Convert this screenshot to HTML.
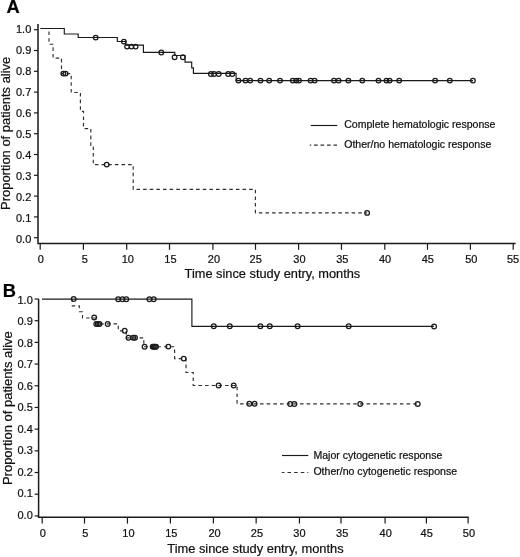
<!DOCTYPE html>
<html><head><meta charset="utf-8"><title>Kaplan-Meier survival curves</title>
<style>
html,body{margin:0;padding:0;background:#fff;}
body{width:520px;height:557px;overflow:hidden;font-family:"Liberation Sans", sans-serif;}
svg{display:block;}
text{stroke:#111;stroke-width:0.22px;}
#w{filter:grayscale(1);width:520px;height:557px;}
</style></head><body><div id="w">
<svg width="520" height="557" viewBox="0 0 520 557">
<rect width="520" height="557" fill="#fff"/>
<path d="M38 24 V243.4 H515.6" fill="none" stroke="#1a1a1a" stroke-width="1.5"/>
<g stroke="#1a1a1a" stroke-width="1.2"><line x1="34" y1="237.70" x2="38" y2="237.70"/><line x1="34" y1="216.90" x2="38" y2="216.90"/><line x1="34" y1="196.10" x2="38" y2="196.10"/><line x1="34" y1="175.30" x2="38" y2="175.30"/><line x1="34" y1="154.50" x2="38" y2="154.50"/><line x1="34" y1="133.70" x2="38" y2="133.70"/><line x1="34" y1="112.90" x2="38" y2="112.90"/><line x1="34" y1="92.10" x2="38" y2="92.10"/><line x1="34" y1="71.30" x2="38" y2="71.30"/><line x1="34" y1="50.50" x2="38" y2="50.50"/><line x1="34" y1="29.70" x2="38" y2="29.70"/></g>
<g stroke="#1a1a1a" stroke-width="1.2"><line x1="40.20" y1="243.4" x2="40.20" y2="249.8"/><line x1="83.40" y1="243.4" x2="83.40" y2="249.8"/><line x1="126.70" y1="243.4" x2="126.70" y2="249.8"/><line x1="169.50" y1="243.4" x2="169.50" y2="249.8"/><line x1="212.90" y1="243.4" x2="212.90" y2="249.8"/><line x1="255.50" y1="243.4" x2="255.50" y2="249.8"/><line x1="298.60" y1="243.4" x2="298.60" y2="249.8"/><line x1="341.45" y1="243.4" x2="341.45" y2="249.8"/><line x1="384.80" y1="243.4" x2="384.80" y2="249.8"/><line x1="427.50" y1="243.4" x2="427.50" y2="249.8"/><line x1="470.40" y1="243.4" x2="470.40" y2="249.8"/><line x1="513.20" y1="243.4" x2="513.20" y2="249.8"/></g>
<g font-family='"Liberation Sans", sans-serif' font-size="11" fill="#111" text-anchor="end"><text x="31.3" y="32.80">1.0</text><text x="31.3" y="53.77">0.9</text><text x="31.3" y="74.74">0.8</text><text x="31.3" y="95.71">0.7</text><text x="31.3" y="116.68">0.6</text><text x="31.3" y="137.65">0.5</text><text x="31.3" y="158.62">0.4</text><text x="31.3" y="179.59">0.3</text><text x="31.3" y="200.56">0.2</text><text x="31.3" y="221.53">0.1</text><text x="31.3" y="242.50">0.0</text></g>
<g font-family='"Liberation Sans", sans-serif' font-size="11" fill="#111" text-anchor="middle"><text x="40.70" y="262.7">0</text><text x="84.90" y="262.7">5</text><text x="127.80" y="262.7">10</text><text x="170.40" y="262.7">15</text><text x="213.90" y="262.7">20</text><text x="255.70" y="262.7">25</text><text x="299.40" y="262.7">30</text><text x="342.30" y="262.7">35</text><text x="385.10" y="262.7">40</text><text x="427.80" y="262.7">45</text><text x="471.30" y="262.7">50</text><text x="513.00" y="262.7">55</text></g>
<text x="184.6" y="278.3" font-family='"Liberation Sans", sans-serif' font-size="12.8" fill="#111">Time since study entry, months</text>
<text transform="translate(9.6 209.9) rotate(-90)" font-family='"Liberation Sans", sans-serif' font-size="12.95" fill="#111">Proportion of patients alive</text>
<text x="6.4" y="12.7" font-family='"Liberation Sans", sans-serif' font-size="18.3" font-weight="bold" fill="#000">A</text>
<path d="M40.3 28.5 H64.3 V34 H78.2 V37.5 H117.3 V41.5 H125.6 V45.1 H143.4 V52.4 H174.8 V55.5 H185 V62.1 H191.7 V67.9 H193.4 V73.3 H236.1 V80.6 H473" fill="none" stroke="#1a1a1a" stroke-width="1.15"/>
<g fill="none" stroke="#1a1a1a" stroke-width="1.25"><circle cx="95.7" cy="37.6" r="2.35"/><circle cx="123.9" cy="41.6" r="2.35"/><circle cx="127.1" cy="46.6" r="2.35"/><circle cx="131.5" cy="46.6" r="2.35"/><circle cx="135.6" cy="46.6" r="2.35"/><circle cx="161.3" cy="52.4" r="2.35"/><circle cx="174.6" cy="57.2" r="2.35"/><circle cx="182.9" cy="57.2" r="2.35"/><circle cx="210.9" cy="74.0" r="2.35"/><circle cx="214.1" cy="74.0" r="2.35"/><circle cx="218.7" cy="74.0" r="2.35"/><circle cx="228.2" cy="74.0" r="2.35"/><circle cx="232.3" cy="74.0" r="2.35"/><circle cx="238.5" cy="80.6" r="2.35"/><circle cx="245.5" cy="80.6" r="2.35"/><circle cx="250.2" cy="80.6" r="2.35"/><circle cx="260.5" cy="80.6" r="2.35"/><circle cx="269.2" cy="80.6" r="2.35"/><circle cx="280.0" cy="80.6" r="2.35"/><circle cx="292.8" cy="80.6" r="2.35"/><circle cx="296.3" cy="80.6" r="2.35"/><circle cx="299.0" cy="80.6" r="2.35"/><circle cx="310.6" cy="80.6" r="2.35"/><circle cx="314.6" cy="80.6" r="2.35"/><circle cx="334.0" cy="80.6" r="2.35"/><circle cx="338.6" cy="80.6" r="2.35"/><circle cx="348.4" cy="80.6" r="2.35"/><circle cx="362.3" cy="80.6" r="2.35"/><circle cx="378.5" cy="80.6" r="2.35"/><circle cx="386.5" cy="80.6" r="2.35"/><circle cx="389.6" cy="80.6" r="2.35"/><circle cx="399.2" cy="80.6" r="2.35"/><circle cx="435.1" cy="80.6" r="2.35"/><circle cx="449.8" cy="80.6" r="2.35"/><circle cx="472.9" cy="80.6" r="2.35"/></g>
<path d="M49 28.5 V44.2 H53.1 V58.1 H61.5 V73.6 H71.2 V92.5 H80.4 V111.3 H83.5 V128.6 H90.8 V145.3 H93.3 V164.6 H133.2 V189.4 H255.4 V212.9 H367.1" fill="none" stroke="#303030" stroke-width="1.15" stroke-dasharray="3.55 3.08" stroke-dashoffset="3.57"/>
<g fill="none" stroke="#1a1a1a" stroke-width="1.25"><circle cx="63.3" cy="73.6" r="2.35"/><circle cx="65.6" cy="73.6" r="2.35"/><circle cx="106.7" cy="164.6" r="2.35"/><circle cx="367.1" cy="212.9" r="2.35"/></g>
<line x1="310.8" y1="125.5" x2="337.3" y2="125.5" stroke="#1a1a1a" stroke-width="1.15"/>
<line x1="309.8" y1="145.1" x2="337" y2="145.1" stroke="#303030" stroke-width="1.15" stroke-dasharray="3.7 2.8" stroke-dashoffset="2.3"/>
<g font-family='"Liberation Sans", sans-serif' font-size="10.55" fill="#111"><text x="344.2" y="128.2">Complete hematologic response</text><text x="344.2" y="148.2">Other/no hematologic response</text></g>
<path d="M38.6 299 V517.3 H468.7" fill="none" stroke="#1a1a1a" stroke-width="1.5"/>
<g stroke="#1a1a1a" stroke-width="1.2"><line x1="34.6" y1="515.90" x2="38.6" y2="515.90"/><line x1="34.6" y1="494.21" x2="38.6" y2="494.21"/><line x1="34.6" y1="472.52" x2="38.6" y2="472.52"/><line x1="34.6" y1="450.83" x2="38.6" y2="450.83"/><line x1="34.6" y1="429.14" x2="38.6" y2="429.14"/><line x1="34.6" y1="407.45" x2="38.6" y2="407.45"/><line x1="34.6" y1="385.76" x2="38.6" y2="385.76"/><line x1="34.6" y1="364.07" x2="38.6" y2="364.07"/><line x1="34.6" y1="342.38" x2="38.6" y2="342.38"/><line x1="34.6" y1="320.69" x2="38.6" y2="320.69"/><line x1="34.6" y1="299.00" x2="38.6" y2="299.00"/></g>
<g stroke="#1a1a1a" stroke-width="1.2"><line x1="42.20" y1="517.3" x2="42.20" y2="523.6"/><line x1="84.50" y1="517.3" x2="84.50" y2="523.6"/><line x1="127.45" y1="517.3" x2="127.45" y2="523.6"/><line x1="170.40" y1="517.3" x2="170.40" y2="523.6"/><line x1="213.40" y1="517.3" x2="213.40" y2="523.6"/><line x1="256.15" y1="517.3" x2="256.15" y2="523.6"/><line x1="299.45" y1="517.3" x2="299.45" y2="523.6"/><line x1="341.00" y1="517.3" x2="341.00" y2="523.6"/><line x1="385.10" y1="517.3" x2="385.10" y2="523.6"/><line x1="426.40" y1="517.3" x2="426.40" y2="523.6"/><line x1="468.10" y1="517.3" x2="468.10" y2="523.6"/></g>
<g font-family='"Liberation Sans", sans-serif' font-size="11" fill="#111" text-anchor="end"><text x="32.8" y="303.70">1.0</text><text x="32.8" y="325.20">0.9</text><text x="32.8" y="346.70">0.8</text><text x="32.8" y="368.20">0.7</text><text x="32.8" y="389.70">0.6</text><text x="32.8" y="411.20">0.5</text><text x="32.8" y="432.70">0.4</text><text x="32.8" y="454.20">0.3</text><text x="32.8" y="475.70">0.2</text><text x="32.8" y="497.20">0.1</text><text x="32.8" y="518.70">0.0</text></g>
<g font-family='"Liberation Sans", sans-serif' font-size="11" fill="#111" text-anchor="middle"><text x="42.90" y="536.9">0</text><text x="85.35" y="536.9">5</text><text x="128.40" y="536.9">10</text><text x="171.30" y="536.9">15</text><text x="214.50" y="536.9">20</text><text x="256.90" y="536.9">25</text><text x="299.40" y="536.9">30</text><text x="342.20" y="536.9">35</text><text x="385.70" y="536.9">40</text><text x="426.70" y="536.9">45</text><text x="468.90" y="536.9">50</text></g>
<text x="167.3" y="553.4" font-family='"Liberation Sans", sans-serif' font-size="12.85" fill="#111">Time since study entry, months</text>
<text transform="translate(12 485.1) rotate(-90)" font-family='"Liberation Sans", sans-serif' font-size="13" fill="#111">Proportion of patients alive</text>
<text x="2.7" y="296.9" font-family='"Liberation Sans", sans-serif' font-size="18.3" font-weight="bold" fill="#000">B</text>
<path d="M42 299.1 H191.9 V326.3 H434" fill="none" stroke="#1a1a1a" stroke-width="1.15"/>
<g fill="none" stroke="#1a1a1a" stroke-width="1.25"><circle cx="73.7" cy="299.0" r="2.35"/><circle cx="118.2" cy="299.2" r="2.35"/><circle cx="122.5" cy="299.2" r="2.35"/><circle cx="126.3" cy="299.2" r="2.35"/><circle cx="149.4" cy="299.2" r="2.35"/><circle cx="153.75" cy="299.2" r="2.35"/><circle cx="213.8" cy="326.3" r="2.35"/><circle cx="229.8" cy="326.3" r="2.35"/><circle cx="260.4" cy="326.2" r="2.35"/><circle cx="269.8" cy="326.2" r="2.35"/><circle cx="297.6" cy="326.2" r="2.35"/><circle cx="348.7" cy="326.3" r="2.35"/><circle cx="434.1" cy="326.4" r="2.35"/></g>
<path d="M72.3 299.1 V305.8 H79.3 V311.7 H82.5 V318 H95.5 V323.9 H118.3 V330.8 H126.3 V337.8 H143.8 V346.7 H174.6 V358.6 H186 V372.5 H193.2 V385.5 H237.1 V403.8 H417.7" fill="none" stroke="#303030" stroke-width="1.15" stroke-dasharray="3.55 3.11" stroke-dashoffset="0.60"/>
<g fill="none" stroke="#1a1a1a" stroke-width="1.25"><circle cx="94.2" cy="317.5" r="2.35"/><circle cx="96.3" cy="324.0" r="2.35"/><circle cx="97.9" cy="324.0" r="2.35"/><circle cx="99.5" cy="324.0" r="2.35"/><circle cx="107.7" cy="323.9" r="2.35"/><circle cx="124.7" cy="330.8" r="2.35"/><circle cx="128.5" cy="337.8" r="2.35"/><circle cx="133.2" cy="337.8" r="2.35"/><circle cx="135.0" cy="337.8" r="2.35"/><circle cx="144.6" cy="346.7" r="2.35"/><circle cx="152.7" cy="346.7" r="2.35"/><circle cx="153.8" cy="346.7" r="2.35"/><circle cx="154.9" cy="346.7" r="2.35"/><circle cx="156.0" cy="346.7" r="2.35"/><circle cx="168.3" cy="346.6" r="2.35"/><circle cx="183.7" cy="358.6" r="2.35"/><circle cx="218.6" cy="385.5" r="2.35"/><circle cx="233.7" cy="385.5" r="2.35"/><circle cx="249.3" cy="403.8" r="2.35"/><circle cx="254.6" cy="403.8" r="2.35"/><circle cx="290.2" cy="403.9" r="2.35"/><circle cx="294.4" cy="403.9" r="2.35"/><circle cx="360.2" cy="403.9" r="2.35"/><circle cx="417.7" cy="403.9" r="2.35"/></g>
<line x1="282" y1="455.5" x2="308.3" y2="455.5" stroke="#1a1a1a" stroke-width="1.15"/>
<line x1="281.8" y1="472.5" x2="308.3" y2="472.5" stroke="#303030" stroke-width="1.15" stroke-dasharray="3.6 3.0" stroke-dashoffset="0.9"/>
<g font-family='"Liberation Sans", sans-serif' font-size="10.55" fill="#111"><text x="313.4" y="458.6">Major cytogenetic response</text><text x="313.4" y="475">Other/no cytogenetic response</text></g>
</svg></div>
</body></html>
